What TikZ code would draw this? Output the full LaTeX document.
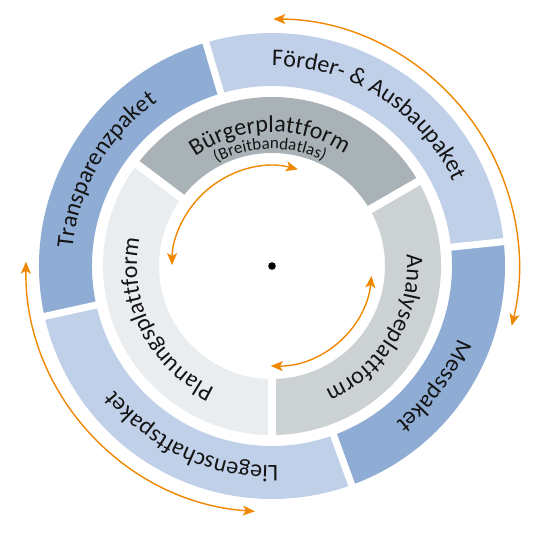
\documentclass[tikz,border=0pt]{standalone}
\usepackage{fontspec}
\setmainfont{Carlito}
\usetikzlibrary{decorations.text,arrows.meta}
\definecolor{lightblue}{RGB}{192,208,232}
\definecolor{darkblue}{RGB}{143,172,212}
\definecolor{graydark}{RGB}{169,178,182}
\definecolor{graymid}{RGB}{204,209,212}
\definecolor{graylight}{RGB}{234,237,240}
\definecolor{arroworange}{RGB}{240,135,0}
\definecolor{txtcol}{RGB}{20,20,20}
% ring sector: colour, start angle, end angle, inner radius, outer radius
\newcommand{\ringsec}[5]{\fill[#1] (#2:#5pt) arc[start angle=#2,end angle=#3,radius=#5pt] -- (#3:#4pt) arc[start angle=#3,end angle=#2,radius=#4pt] -- cycle;}
% text along clockwise arc: start angle, end angle, radius, text, size
\newcommand{\arctext}[5]{\path[decorate,decoration={text along path,text align=center,text color=txtcol,text={|\fontsize{#5}{#5}\selectfont|#4}}] (#1:#3pt) arc[start angle=#1,end angle=#2,radius=#3pt];}
\tikzset{
  orarrow/.style={draw=arroworange,line width=1.4pt,arrows={Stealth[length=12pt,width=10pt,inset=3pt]-Stealth[length=12pt,width=10pt,inset=3pt]}},
  gapline/.style={draw=white,line width=#1}
}
\begin{document}
\begin{tikzpicture}[x=1pt,y=1pt]
\useasboundingbox (-272,-288) rectangle (286,266);
% outer ring
\ringsec{lightblue}{106.5}{6}{180}{233}
\ringsec{darkblue}{6}{-70}{180}{233}
\ringsec{lightblue}{-70}{-167.5}{180}{233}
\ringsec{darkblue}{192.5}{106.5}{180}{233}
\foreach \a in {106.5,6,-70,192.5}{\draw[gapline=7pt] (\a:172pt) -- (\a:240pt);}
% inner ring
\ringsec{graydark}{143}{30}{113}{169}
\ringsec{graymid}{30}{-90}{113}{169}
\ringsec{graylight}{-90}{-217}{113}{169}
\foreach \a in {143,30,-90}{\draw[gapline=8pt] (\a:105pt) -- (\a:175pt);}
% texts
\arctext{107.5}{7.5}{200}{Förder- {\&} Ausbaupaket}{24}
\arctext{3.5}{-76.5}{200}{Messpaket}{24}
\arctext{-60}{-170}{200}{Liegenschaftspaket}{24}
\arctext{195}{105}{200}{Transparenzpaket}{24}
\arctext{146}{36}{134}{Bürgerplattform}{24}
\arctext{141}{41}{117}{(Breitbandatlas)}{17}
\arctext{24}{-86}{135}{Analyseplattform}{24}
\arctext{266.5}{146.5}{135}{Planungsplattform}{24}
% arrows
\draw[orarrow] (89.7:247pt) arc[start angle=89.7,end angle=-14,radius=247pt];
\draw[orarrow] (179:246pt) arc[start angle=179,end angle=266,radius=246pt];
\draw[orarrow] (75:100pt) arc[start angle=75,end angle=179.5,radius=100pt];
\draw[orarrow] (-5.7:100pt) arc[start angle=-5.7,end angle=-90.7,radius=100pt];
% centre dot
\fill (0,0) circle[radius=3.8pt];
\end{tikzpicture}
\end{document}
